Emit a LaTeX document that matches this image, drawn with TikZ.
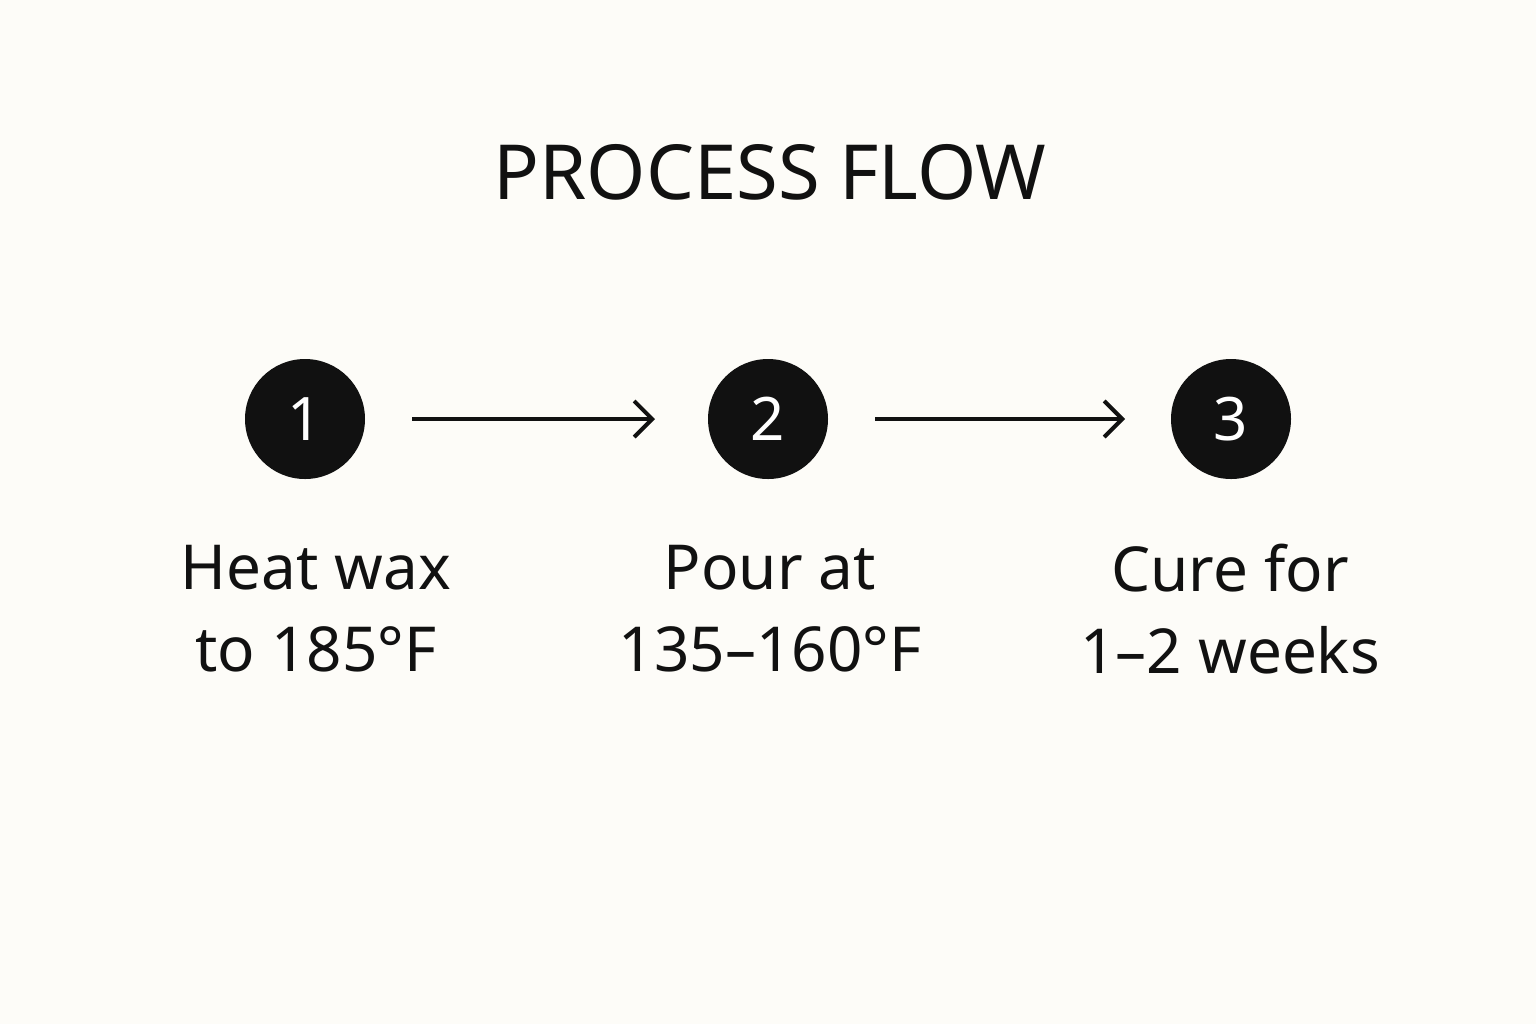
\documentclass[tikz,border=0pt]{standalone}
\usepackage{fontspec}
\setmainfont{Noto Sans}
\usetikzlibrary{arrows.meta}
\definecolor{bg}{HTML}{FDFCF8}
\definecolor{ink}{HTML}{111111}
\begin{document}
\begin{tikzpicture}[x=0.5pt,y=-0.5pt,
  stepcircle/.style={circle,fill=ink,minimum size=60pt,inner sep=0pt,text=white,font=\bfseries\fontsize{30}{30}\selectfont},
  lbl/.style={align=center,text=ink,font=\fontsize{31}{41}\selectfont},
  conn/.style={draw=ink,line width=2pt,-{Straight Barb[length=9pt,width=18pt,line width=2pt]}}]
\fill[bg] (0,0) rectangle (1536,1024);
\node[text=ink,font=\bfseries\fontsize{38}{38}\selectfont] (title) at (770,172) {PROCESS FLOW};
\node[stepcircle] (c1) at (305,419) {1};
\node[stepcircle] (c2) at (768,419) {2};
\node[stepcircle] (c3) at (1231,419) {3};
\coordinate (a1s) at (412,419); \coordinate (a1e) at (655,419);
\coordinate (a2s) at (875,419); \coordinate (a2e) at (1125,419);
\draw[conn] (a1s) -- (a1e);
\draw[conn] (a2s) -- (a2e);
\node[lbl] (l1) at (316,609) {Heat wax\\to 185°F};
\node[lbl] (l2) at (770,609) {Pour at\\135–160°F};
\node[lbl] (l3) at (1230,609) {Cure for\\1–2 weeks};
\end{tikzpicture}
\end{document}
